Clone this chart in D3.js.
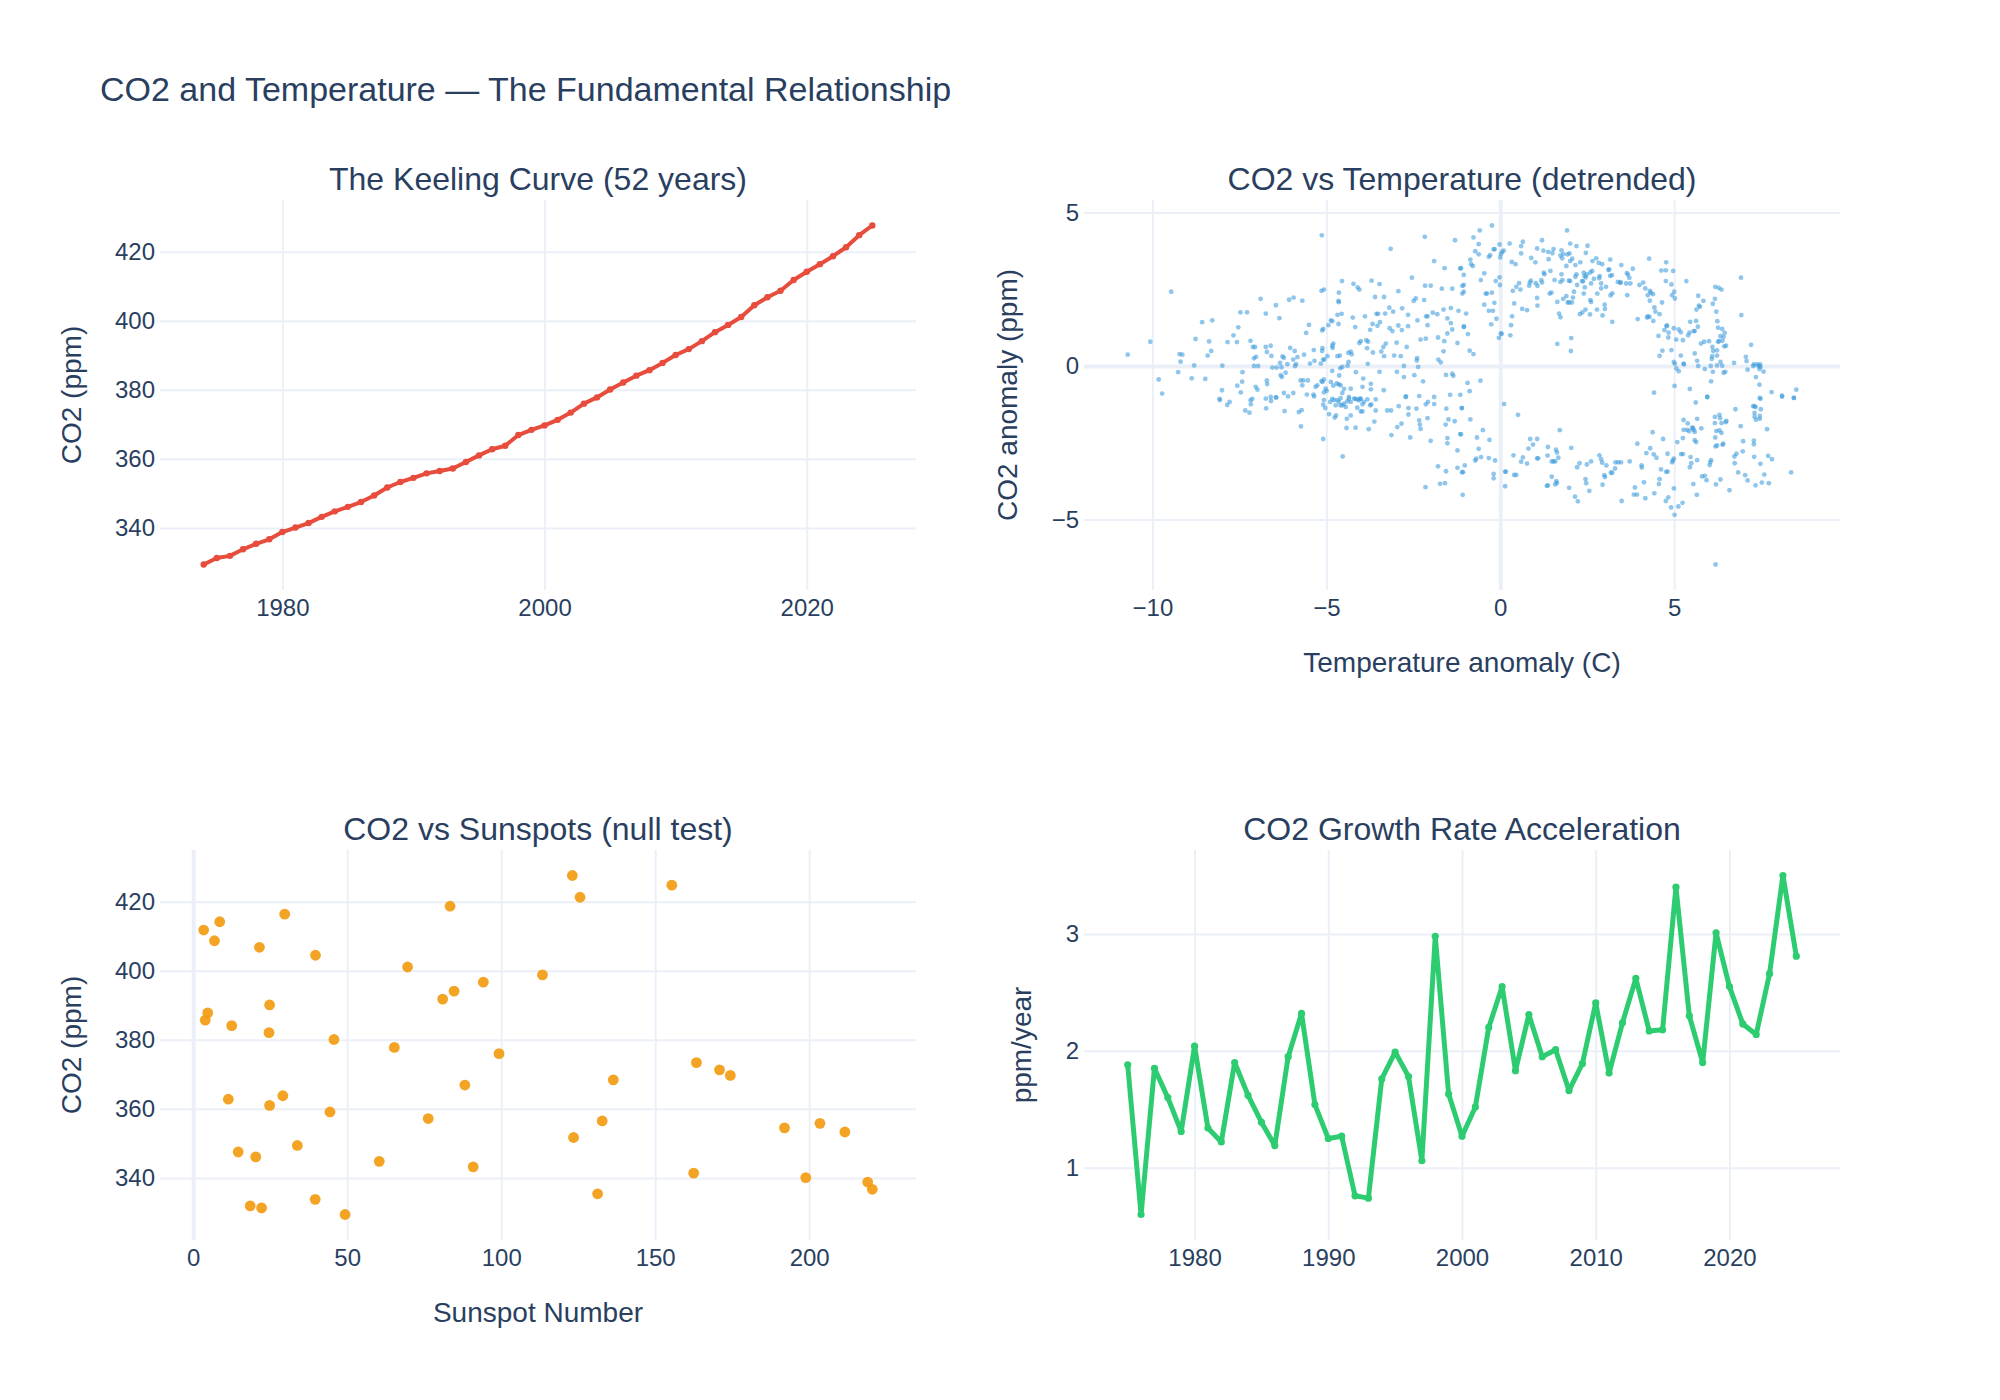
<!DOCTYPE html>
<meta charset="utf-8">
<style>
body { margin: 0; background: #fff; }
svg { font-family: "Liberation Sans", Arial, sans-serif; }
text { fill: #2a3f5f; }
.grid .domain, .labels .domain { display: none; }
.grid line { stroke: #ebf0f8; stroke-width: 2px; }
.grid .zero line { stroke-width: 4px; }
.labels text { font-size: 24px; }
.main-title { font-size: 34px; }
.sub-title { font-size: 32px; text-anchor: middle; }
.axis-title { font-size: 28px; text-anchor: middle; }
</style>
<svg width="2000" height="1400"></svg>
<script src="https://cdn.jsdelivr.net/npm/d3@7"></script>
<script>
// ---- data ----
var years = [1974, 1975, 1976, 1977, 1978, 1979, 1980, 1981, 1982, 1983, 1984, 1985, 1986,
  1987, 1988, 1989, 1990, 1991, 1992, 1993, 1994, 1995, 1996, 1997, 1998, 1999, 2000,
  2001, 2002, 2003, 2004, 2005, 2006, 2007, 2008, 2009, 2010, 2011, 2012, 2013, 2014,
  2015, 2016, 2017, 2018, 2019, 2020, 2021, 2022, 2023, 2024, 2025];

var co2Ppm = [329.4, 331.3, 331.9, 333.8, 335.4, 336.7, 338.8, 340.1, 341.4, 343.2, 344.8,
  346.1, 347.5, 349.4, 351.7, 353.3, 354.5, 355.8, 356.5, 357.2, 359.1, 361.0, 362.8,
  363.8, 366.9, 368.4, 369.7, 371.3, 373.4, 376.0, 377.8, 380.1, 382.1, 384.1, 385.7,
  387.8, 390.1, 391.8, 394.1, 396.7, 398.8, 401.1, 404.5, 406.8, 408.7, 411.8, 414.2,
  416.4, 418.7, 421.3, 424.8, 427.6];

// sunspot number for each year above
var sunspots = [49.3, 22.2, 18.5, 39.6, 131.3, 220.5, 219.0, 198.9, 162.5, 90.9, 60.4,
  20.3, 14.6, 33.8, 123.5, 211.6, 192.0, 203.5, 132.8, 76.3, 44.4, 24.8, 11.4, 29.1,
  88.2, 136.4, 174.4, 170.9, 163.4, 99.3, 65.3, 45.7, 24.6, 12.5, 3.9, 4.7, 24.8, 81.0,
  84.7, 94.2, 113.4, 69.6, 39.7, 21.5, 6.9, 3.4, 8.6, 29.7, 83.4, 125.6, 155.4, 123.1];

// growth rate, 1975..2025
var growthRate = [1.88, 0.60, 1.85, 1.60, 1.31, 2.04, 1.34, 1.22, 1.90, 1.62, 1.39, 1.19,
  1.95, 2.32, 1.54, 1.25, 1.27, 0.76, 0.74, 1.76, 1.99, 1.78, 1.06, 2.98, 1.63, 1.27,
  1.52, 2.20, 2.55, 1.83, 2.31, 1.95, 2.01, 1.66, 1.89, 2.41, 1.81, 2.24, 2.62, 2.17,
  2.18, 3.40, 2.30, 1.90, 3.01, 2.55, 2.23, 2.14, 2.66, 3.50, 2.81];

// [temperature anomaly (C), CO2 anomaly (ppm)]
var detrended = [
  [-5.13,4.26],[-2.17,4.21],[-1.30,4.10],[-3.15,3.82],[-1.90,3.42],[-1.60,3.19],[-1.13,3.19],
  [-2.54,2.88],[-4.55,2.77],[-4.22,2.68],[-4.10,2.56],[-4.05,2.49],[-3.70,2.78],[-3.47,2.67],
  [-5.14,2.45],[-5.07,2.49],[-4.64,2.39],[-2.93,2.44],[-2.16,2.62],[-2.00,2.62],[-1.68,2.52],
  [-1.09,2.61],[-9.46,2.42],[-6.89,2.19],[-6.07,2.16],[-5.94,2.23],[-5.69,2.13],[-3.60,2.25],
  [-3.34,2.25],[-2.43,2.20],[-2.49,2.12],[-2.19,2.15],[-1.38,2.52],[-1.09,2.36],[-4.65,2.12],
  [-4.64,2.08],[-6.45,1.98],[-6.74,1.71],[-6.35,1.56],[-7.47,1.75],[-7.28,1.75],[-8.57,1.43],
  [-8.28,1.49],[-4.56,1.70],[-4.68,1.67],[-4.24,1.58],[-3.89,1.62],[-3.56,1.70],[-3.51,1.70],
  [-3.31,1.71],[-3.19,1.90],[-3.08,1.77],[-2.82,1.88],[-2.65,1.67],[-2.38,1.49],[-2.13,1.62],
  [-2.09,1.62],[-1.94,1.74],[-1.81,1.69],[-1.63,1.84],[-1.42,1.89],[-1.20,1.80],[-1.52,1.55],
  [-1.42,1.40],[-1.04,1.28],[-5.50,1.34],[-5.58,1.08],[-4.94,1.33],[-4.87,1.49],[-4.83,1.46],
  [-5.09,1.21],[-5.12,1.16],[-4.65,1.37],[-4.17,1.27],[-3.74,1.18],[-3.67,1.37],[-3.53,1.31],
  [-3.46,1.43],[-3.29,0.73],[-3.36,0.62],[-3.18,1.23],[-3.10,1.14],[-2.93,1.32],[-2.83,1.17],
  [-2.65,1.30],[-2.09,1.33],[-2.29,0.86],[-2.14,0.89],[-1.79,0.93],[-1.61,0.81],[-1.52,1.06],
  [-1.38,1.19],[-1.23,0.75],[-7.53,1.26],[-7.67,1.00],[-7.84,0.78],[-7.57,0.78],[-7.18,0.82],
  [-8.76,0.88],[-8.37,0.80],[-8.31,0.49],[-8.41,0.34],[-10.06,0.79],[-10.71,0.37],[-9.22,0.39],
  [-9.14,0.37],[-9.19,0.14],[-8.80,0.02],[-7.99,0.01],[-7.11,0.62],[-7.05,0.62],[-6.74,0.62],
  [-6.60,0.66],[-6.71,0.46],[-7.08,0.25],[-7.02,0.30],[-6.58,0.33],[-7.08,0.00],[-6.96,0.00],
  [-6.55,-0.05],[-6.26,0.31],[-6.22,0.27],[-6.04,0.59],[-5.91,0.49],[-5.95,0.21],[-5.83,0.29],
  [-6.33,0.10],[-6.43,-0.05],[-6.29,-0.04],[-6.12,0.06],[-5.87,0.06],[-5.90,0.00],[-5.64,0.37],
  [-5.47,0.08],[-5.36,0.52],[-5.34,0.17],[-5.11,0.58],[-5.12,0.49],[-5.09,0.21],[-5.06,0.21],
  [-5.16,0.08],[-4.97,0.32],[-4.80,0.73],[-4.83,0.66],[-4.82,0.59],[-4.68,0.32],[-4.61,0.34],
  [-4.37,0.43],[-4.30,0.47],[-4.27,0.38],[-4.54,-0.03],[-4.39,0.01],[-4.83,-0.16],[-4.60,-0.07],
  [-4.63,-0.31],[-4.36,0.13],[-4.05,0.75],[-4.01,0.81],[-3.85,0.84],[-3.80,0.79],[-3.83,0.58],
  [-3.81,0.07],[-4.15,-0.20],[-3.94,-0.41],[-3.66,0.44],[-3.42,0.47],[-3.47,-0.19],[-3.35,-0.79],
  [-3.34,0.32],[-3.05,0.34],[-2.86,0.32],[-2.98,0.76],[-2.69,0.62],[-2.39,0.26],[-2.40,0.18],
  [-2.36,-0.03],[-2.77,0.00],[-2.97,-0.19],[-2.77,-0.36],[-2.47,-0.30],[-2.22,-0.50],[-1.78,0.21],
  [-1.71,0.12],[-1.63,0.48],[-1.56,-0.29],[-1.38,-0.25],[-1.35,-0.32],[-1.15,-0.94],[-1.44,-0.94],
  [-1.90,-1.01],[-2.33,-0.98],[-2.72,-1.01],[-3.72,-0.76],[-3.96,-0.68],[-3.72,-0.58],[-8.87,-0.40],
  [-9.26,-0.20],[-9.82,-0.44],[-9.72,-0.90],[-8.48,-0.42],[-7.41,-0.20],[-7.42,-0.51],[-7.56,-0.64],
  [-7.46,-0.86],[-8.00,-0.79],[-8.07,-1.07],[-7.03,-0.68],[-6.98,-0.77],[-6.71,-0.47],[-6.70,-0.59],
  [-6.31,-0.30],[-6.28,-0.36],[-6.60,-1.01],[-6.22,-0.88],[-5.95,-0.88],[-6.44,-1.03],[-6.17,-0.22],
  [-5.74,-0.47],[-5.66,-0.47],[-5.53,-0.47],[-5.69,-0.63],[-5.56,-0.93],[-5.37,-0.93],[-5.31,-0.68],
  [-5.26,-0.63],[-5.14,-0.49],[-5.11,-0.52],[-5.07,-0.44],[-5.02,-0.74],[-4.99,-0.81],[-5.07,-0.86],
  [-4.87,-0.52],[-4.80,-0.64],[-4.70,-0.57],[-4.64,-0.60],[-4.59,-0.63],[-4.49,-0.75],[-4.54,-0.88],
  [-4.30,-0.74],[-4.20,-1.06],[-4.03,-1.06],[-4.35,-1.01],[-4.59,-1.05],[-4.83,-1.07],
  [-8.06,-1.11],[-7.85,-1.27],[-7.78,-1.17],[-7.33,-1.45],[-7.21,-1.52],[-7.18,-1.12],[-7.17,-1.25],
  [-7.13,-1.07],[-6.74,-1.06],[-6.73,-1.38],[-6.59,-1.14],[-6.45,-1.02],[-6.20,-1.47],[-6.10,-0.99],
  [-5.79,-1.50],[-5.71,-1.44],[-5.73,-1.97],[-5.35,-0.99],[-5.09,-2.38],[-5.07,-1.11],[-5.09,-1.26],
  [-5.03,-1.37],[-4.92,-1.57],[-4.89,-1.17],[-4.78,-1.11],[-4.73,-1.28],[-4.68,-1.11],[-4.64,-1.17],
  [-4.59,-1.28],[-4.54,-1.28],[-4.49,-1.23],[-4.44,-1.34],[-4.40,-1.15],[-4.35,-1.07],[-4.30,-1.17],
  [-4.76,-1.68],[-4.72,-1.61],[-4.53,-2.95],[-4.41,-1.72],[-4.42,-2.02],[-4.30,-1.61],[-4.16,-2.01],
  [-4.17,-1.07],[-4.11,-1.09],[-4.06,-1.12],[-4.01,-1.07],[-3.96,-1.25],[-3.92,-1.17],[-4.11,-1.36],
  [-4.01,-1.48],[-3.96,-1.48],[-3.82,-1.09],[-3.74,-1.28],[-3.71,-1.25],[-3.78,-2.06],[-3.62,-1.81],
  [-3.58,-1.09],[-3.58,-1.45],[-3.25,-1.45],[-3.14,-1.45],[-3.13,-2.25],[-2.96,-1.99],[-2.84,-1.88],
  [-2.92,-1.31],[-2.71,-0.99],[-2.64,-1.37],[-2.64,-1.58],[-2.59,-2.33],[-2.41,-1.39],[-2.33,-1.77],
  [-2.31,-1.91],[-2.29,-2.05],[-2.09,-1.70],[-2.14,-1.25],[-2.08,-1.17],[-2.00,-2.44],[-1.90,-1.24],
  [-1.79,-3.27],[-2.15,-3.95],[-1.73,-3.84],[-1.59,-3.82],[-1.56,-3.43],[-1.55,-1.39],[-1.57,-1.91],
  [-1.49,-1.74],[-1.31,-1.80],[-1.52,-2.35],[-1.52,-2.52],[-1.23,-2.75],[-1.23,-3.32],[-1.13,-2.23],
  [-1.11,-1.37],[-1.10,-3.46],[-1.08,-4.20],
  [-0.24,4.58],[-0.59,4.42],[-0.77,4.19],[-0.62,3.97],[-0.72,3.74],[-0.62,3.64],[-0.86,3.47],
  [-0.84,3.32],[-0.79,3.26],[-1.15,3.18],[-1.05,2.97],[-0.56,2.80],[-0.46,3.02],[-0.13,2.77],
  [-0.02,2.89],[-0.01,2.64],[-1.05,2.64],[-1.05,2.42],[-0.42,2.36],[-0.38,2.36],[-0.24,2.39],
  [-0.46,2.00],[-0.17,2.06],[-0.33,1.80],[-0.21,1.80],[-0.26,1.36],[-0.11,1.54],[-0.98,1.71],
  [-1.05,1.28],[-0.93,1.04],[-0.88,0.50],[-0.77,0.39],[-0.04,0.92],[0.04,1.05],[-0.57,-0.48],
  [-0.94,-0.55],[-0.88,-0.82],[-0.33,3.56],[-0.29,3.61],[-0.19,3.80],[-0.16,3.81],[-0.02,3.96],
  [0.02,3.65],[0.05,3.72],[0.00,3.54],[0.10,3.76],[0.27,3.99],[0.33,3.39],[0.44,3.32],[0.60,3.91],
  [0.65,4.05],[0.60,3.67],[0.89,3.52],[1.01,3.38],[1.06,3.83],[1.20,4.10],[1.24,3.76],[1.39,3.48],
  [1.38,3.72],[1.50,3.68],[1.53,3.81],[1.76,3.77],[1.73,3.60],[1.78,3.51],[1.81,3.65],[1.93,3.64],
  [1.99,3.67],[1.92,4.42],[2.07,3.50],[2.01,3.42],[2.01,3.99],[2.19,3.91],[1.90,3.26],[2.16,3.29],
  [2.30,3.38],[2.46,3.69],[2.51,3.92],[2.65,3.42],[2.76,3.51],[2.83,3.36],[2.93,3.32],[3.16,3.47],
  [3.11,3.13],[3.13,3.15],[3.48,3.29],[3.81,3.17],[3.64,3.03],[3.67,2.98],[3.71,2.87],[3.46,2.73],
  [3.62,2.69],[3.74,2.69],[3.16,2.94],[3.21,2.96],[2.86,2.93],[2.84,2.86],[2.69,2.84],[2.64,3.10],
  [2.59,3.05],[2.49,2.99],[2.40,3.04],[2.42,2.93],[2.46,2.89],[2.35,2.77],[2.38,2.76],[2.19,2.99],
  [2.16,2.91],[2.01,2.77],[1.97,2.78],[1.76,2.99],[1.79,2.80],[1.73,2.74],[1.56,2.80],[1.44,3.10],
  [1.25,3.04],[1.27,2.99],[1.18,2.80],[1.20,2.72],[1.02,2.70],[1.07,2.61],[0.88,2.78],[0.85,2.72],
  [0.83,2.62],[0.46,2.58],[0.54,2.70],[0.36,2.45],[0.58,2.49],[0.40,2.04],[0.34,1.62],[0.31,1.33],
  [0.29,1.00],[0.02,1.06],[0.63,1.86],[0.77,1.82],[1.06,2.22],[1.07,1.97],[1.42,2.36],[1.47,2.39],
  [1.64,2.09],[1.69,1.71],[1.73,1.59],[1.64,0.72],[1.81,2.19],[1.90,2.28],[2.04,0.91],[2.03,0.49],
  [1.94,2.07],[1.98,2.07],[2.06,2.07],[2.12,2.42],[2.09,2.23],[2.21,2.64],[2.29,1.69],[2.36,1.75],
  [2.45,1.84],[2.43,2.56],[2.40,2.36],[2.59,2.15],[2.61,2.09],[2.58,1.68],[2.61,2.69],[2.78,1.84],
  [2.79,2.36],[2.90,2.69],[2.90,2.53],[2.94,1.65],[3.00,2.00],[3.01,1.86],[3.04,2.58],[3.17,2.30],
  [3.22,2.37],[3.22,1.44],[3.38,2.74],[3.45,2.71],[3.65,2.31],[3.95,1.53],[4.00,2.64],[4.11,2.72],
  [4.17,2.53],[4.24,2.31],[4.30,2.45],[4.33,2.39],[4.28,3.50],[4.30,2.13],[4.39,2.34],[4.24,1.62],
  [4.29,1.60],[4.22,1.58],[4.43,1.91],[4.46,1.77],[4.58,1.69],[4.40,1.47],[4.65,2.07],[4.63,3.11],
  [4.76,3.12],[4.77,3.38],[4.97,3.10],[4.76,2.77],[4.92,2.66],[4.94,2.31],[5.00,2.42],[5.02,2.20],
  [5.35,2.77],[4.55,0.98],[4.66,0.50],[4.58,0.33],[4.72,1.17],[4.79,1.32],[4.78,1.30],[4.84,1.09],
  [4.83,0.93],[4.92,0.52],[4.99,1.23],[5.13,1.19],[5.19,1.10],[5.06,0.86],[5.25,0.84],[5.19,0.34],
  [5.27,0.08],[5.28,0.05],[4.99,0.13],[5.02,0.07],[5.06,-0.08],[5.13,-0.17],[5.44,1.09],[5.40,1.00],
  [5.46,1.44],[5.63,1.47],[5.56,1.14],[5.59,1.14],[5.68,1.28],[5.69,2.29],[5.71,1.97],[5.84,2.12],
  [5.64,1.84],[5.74,1.93],[5.59,0.41],[5.66,0.17],[5.69,0.00],[5.45,-0.75],[5.86,0.79],[6.00,0.81],
  [5.77,0.73],[6.10,0.62],[6.12,0.49],[6.09,0.32],[6.23,0.51],[6.23,0.34],[5.88,-0.10],[5.95,-1.01],
  [6.08,0.23],[6.05,0.00],[6.11,-0.19],[6.06,-0.50],[6.18,2.58],[6.28,2.55],[6.36,2.49],[6.17,2.19],
  [6.11,2.03],[6.21,1.77],[6.24,1.46],[6.26,1.25],[6.38,1.21],[6.33,0.97],[6.45,1.08],[6.42,0.95],
  [6.26,0.79],[6.29,0.81],[6.39,0.82],[6.44,0.64],[6.49,0.66],[6.33,0.13],[6.38,0.01],[6.42,-0.22],
  [6.47,-0.19],[6.23,0.02],[6.72,0.10],[6.92,2.88],[6.93,1.66],[7.06,0.30],[7.08,0.16],[7.11,-0.12],
  [7.21,0.69],[7.27,0.00],[7.29,0.05],[7.38,0.05],[7.43,0.00],[7.47,0.05],[7.48,-0.03],[7.45,-0.10],
  [7.57,-0.18],[7.35,-0.36],[7.45,-0.61],[7.80,-0.85],[8.10,-0.97],[8.44,-1.04],[8.51,-0.77],
  [7.46,-1.04],[4.42,-0.87],[5.01,-0.65],
  [-1.10,-1.37],[-0.86,-1.74],[-1.15,-2.22],[-0.67,-2.33],[-0.62,-2.70],[-0.72,-3.08],[-0.69,-3.02],
  [-0.55,-2.97],[-0.50,-2.09],[-0.31,-2.41],[-0.33,-3.00],[-0.15,-3.08],[-1.02,-3.24],[-1.07,-3.46],
  [-0.19,-3.52],[-0.19,-3.66],[0.11,-1.24],[0.51,-1.59],[0.14,-3.45],[0.16,-3.44],[0.14,-3.92],
  [0.40,-3.55],[0.46,-3.55],[0.38,-2.91],[0.65,-2.98],[0.60,-3.12],[0.77,-3.18],[0.86,-2.38],
  [0.94,-2.56],[1.06,-2.38],[0.81,-2.69],[1.06,-3.01],[1.09,-3.01],[1.34,-3.91],[1.37,-3.89],
  [1.48,-3.61],[1.61,-3.75],[1.58,-3.86],[1.63,-3.81],[1.37,-2.64],[1.36,-2.92],[1.48,-3.11],
  [1.53,-3.11],[1.58,-3.11],[1.60,-2.73],[1.63,-2.82],[1.67,-2.99],[1.71,-2.09],[1.98,-3.97],
  [2.04,-2.67],[2.15,-4.26],[2.23,-4.41],[2.21,-3.30],[2.28,-3.17],[2.45,-3.69],[2.47,-3.82],
  [2.56,-4.07],[2.49,-3.21],[2.61,-3.11],[2.85,-2.91],[2.90,-3.04],[2.93,-3.15],[2.94,-3.87],
  [2.99,-3.56],[3.01,-3.62],[3.05,-3.24],[3.18,-3.48],[3.22,-3.48],[3.30,-3.34],[3.31,-3.14],
  [3.39,-3.14],[3.47,-3.14],[3.49,-4.40],[3.72,-3.11],[3.87,-3.96],[3.84,-4.19],[3.93,-4.19],
  [3.94,-2.53],[4.06,-3.24],[4.07,-3.31],[4.13,-3.79],[4.17,-4.31],[4.20,-2.84],[4.31,-2.68],
  [4.38,-2.16],[4.41,-2.88],[4.43,-4.15],[4.49,-2.99],[4.58,-3.69],[4.56,-3.85],[4.62,-3.37],
  [4.68,-2.38],[4.77,-3.45],[4.81,-3.44],[4.81,-2.86],[4.76,-4.40],[4.83,-4.28],[4.91,-4.61],
  [5.01,-4.85],[5.12,-4.58],[5.24,-4.46],[4.99,-3.99],[4.96,-3.08],[4.94,-3.14],[4.99,-3.02],
  [5.09,-2.48],[5.20,-2.87],[5.25,-2.87],[5.25,-2.35],[5.27,-2.08],[5.27,-1.76],[5.39,-1.87],
  [5.37,-2.08],[5.43,-2.13],[5.51,-2.02],[5.54,-2.01],[5.56,-2.08],[5.59,-2.15],[5.45,-3.30],
  [5.47,-2.97],[5.49,-3.17],[5.66,-3.07],[5.55,-3.85],[5.59,-2.42],[5.63,-2.48],[5.62,-1.19],
  [5.66,-1.72],[5.78,-2.03],[5.65,-4.20],[5.80,-3.60],[5.88,-3.58],[5.93,-3.72],[5.95,-1.01],
  [6.02,-3.23],[6.04,-3.13],[6.06,-3.07],[6.17,-1.66],[6.30,-1.59],[6.32,-1.70],[6.17,-1.86],
  [6.36,-1.86],[6.48,-1.83],[6.50,-1.79],[6.21,-2.12],[6.30,-2.10],[6.36,-2.18],[6.18,-2.33],
  [6.19,-2.62],[6.23,-2.59],[6.41,-2.53],[6.39,-2.57],[6.20,-3.86],[6.33,-3.70],[6.19,-6.47],
  [6.59,-4.05],[6.73,-2.95],[6.79,-2.86],[6.76,-1.41],[6.74,-3.17],[6.84,-3.47],[6.91,-1.96],
  [6.98,-2.45],[6.97,-2.78],[7.04,-3.56],[7.11,-3.73],[7.27,-1.31],[7.31,-1.31],[7.34,-1.34],
  [7.31,-1.53],[7.31,-1.65],[7.35,-1.75],[7.46,-1.72],[7.46,-1.63],[7.29,-2.43],[7.29,-2.55],
  [7.30,-2.96],[7.34,-3.89],[7.48,-1.07],[7.49,-1.41],[7.48,-3.19],[7.52,-3.80],[7.59,-3.54],
  [7.67,-2.06],[7.70,-2.93],[7.72,-3.82],[7.81,-3.04],[8.10,-1.00],[8.36,-3.47],[8.44,-1.04]
];

var keelingYearTicks = [1980, 2000, 2020];
var growthYearTicks = [1980, 1990, 2000, 2010, 2020];
var ppmTicks = [340, 360, 380, 400, 420];
var tempTicks = [-10, -5, 0, 5];
var anomalyTicks = [-5, 0, 5];
var sunspotTicks = [0, 50, 100, 150, 200];
var growthTicks = [1, 2, 3];

// ---- layout ----
var svg = d3.select("svg");
svg.append("rect").attr("width", 2000).attr("height", 1400).attr("fill", "#fff");

var cols = [[160, 916], [1084, 1840]],
    rows = [[200, 590], [850, 1240]],
    padX = 43.7, padY = 25.5;

// range with a fixed pixel pad on each side, like plotly's autorange
function padded(ext, len, pad) {
  var k = (len - 2 * pad) / (ext[1] - ext[0]);
  return [ext[0] - pad / k, ext[1] + pad / k];
}

function markZero(sel) {
  sel.selectAll(".tick").filter(function(d) { return d === 0; }).classed("zero", true);
}

svg.append("text")
    .attr("class", "main-title")
    .attr("x", 100)
    .attr("y", 101)
    .text("CO2 and Temperature \u2014 The Fundamental Relationship");

function panel(p) {
  var xr = cols[p.col], yr = rows[p.row];
  var x = d3.scaleLinear().domain(padded(p.xExt, xr[1] - xr[0], padX)).range(xr);
  var y = d3.scaleLinear().domain(padded(p.yExt, yr[1] - yr[0], padY)).range([yr[1], yr[0]]);
  var g = svg.append("g");

  g.append("g")
      .attr("class", "grid")
      .attr("transform", "translate(0," + yr[1] + ")")
      .call(d3.axisBottom(x).tickValues(p.xTicks).tickSize(-(yr[1] - yr[0])).tickFormat(""))
      .call(markZero);
  g.append("g")
      .attr("class", "grid")
      .attr("transform", "translate(" + xr[0] + ",0)")
      .call(d3.axisLeft(y).tickValues(p.yTicks).tickSize(-(xr[1] - xr[0])).tickFormat(""))
      .call(markZero);

  p.draw(g, x, y);

  g.append("g")
      .attr("class", "labels")
      .attr("transform", "translate(0," + yr[1] + ")")
      .call(d3.axisBottom(x).tickValues(p.xTicks).tickSize(0).tickPadding(9).tickFormat(p.xFormat))
      .attr("font-size", null).attr("font-family", null);
  var yl = g.append("g")
      .attr("class", "labels")
      .attr("transform", "translate(" + xr[0] + ",0)")
      .call(d3.axisLeft(y).tickValues(p.yTicks).tickSize(0).tickPadding(5).tickFormat(d3.format("")))
      .attr("font-size", null).attr("font-family", null);

  var labelW = d3.max(yl.selectAll("text").nodes(), function(n) { return n.getBBox().width; });

  g.append("text")
      .attr("class", "sub-title")
      .attr("x", (xr[0] + xr[1]) / 2)
      .attr("y", yr[0] - 10)
      .text(p.title);

  var ty = xr[0] - 5 - labelW - 44;
  g.append("text")
      .attr("class", "axis-title")
      .attr("transform", "translate(" + ty + "," + (yr[0] + yr[1]) / 2 + ") rotate(-90)")
      .attr("dy", "0.35em")
      .text(p.yTitle);

  if (p.xTitle) {
    g.append("text")
        .attr("class", "axis-title")
        .attr("x", (xr[0] + xr[1]) / 2)
        .attr("y", yr[1] + 82)
        .text(p.xTitle);
  }
}

// Keeling curve
panel({
  col: 0, row: 0,
  title: "The Keeling Curve (52 years)",
  yTitle: "CO2 (ppm)",
  xExt: d3.extent(years), yExt: d3.extent(co2Ppm),
  xTicks: keelingYearTicks, yTicks: ppmTicks, xFormat: d3.format("d"),
  draw: function(g, x, y) {
    var line = d3.line()
        .x(function(d, i) { return x(years[i]); })
        .y(function(d) { return y(d); });
    g.append("path")
        .datum(co2Ppm)
        .attr("d", line)
        .attr("fill", "none")
        .attr("stroke", "#e74c3c")
        .attr("stroke-width", 4)
        .attr("stroke-linejoin", "round");
    g.selectAll(".k-dot")
        .data(co2Ppm)
      .enter().append("circle")
        .attr("cx", function(d, i) { return x(years[i]); })
        .attr("cy", function(d) { return y(d); })
        .attr("r", 3.2)
        .attr("fill", "#e74c3c");
  }
});

// detrended scatter
panel({
  col: 1, row: 0,
  title: "CO2 vs Temperature (detrended)",
  yTitle: "CO2 anomaly (ppm)",
  xTitle: "Temperature anomaly (C)",
  xExt: d3.extent(detrended, function(d) { return d[0]; }),
  yExt: d3.extent(detrended, function(d) { return d[1]; }),
  xTicks: tempTicks, yTicks: anomalyTicks, xFormat: d3.format(""),
  draw: function(g, x, y) {
    g.selectAll(".t-dot")
        .data(detrended)
      .enter().append("circle")
        .attr("cx", function(d) { return x(d[0]); })
        .attr("cy", function(d) { return y(d[1]); })
        .attr("r", 2.4)
        .attr("fill", "#3498db")
        .attr("fill-opacity", 0.55);
  }
});

// sunspots
panel({
  col: 0, row: 1,
  title: "CO2 vs Sunspots (null test)",
  yTitle: "CO2 (ppm)",
  xTitle: "Sunspot Number",
  xExt: d3.extent(sunspots), yExt: d3.extent(co2Ppm),
  xTicks: sunspotTicks, yTicks: ppmTicks, xFormat: d3.format(""),
  draw: function(g, x, y) {
    g.selectAll(".s-dot")
        .data(co2Ppm)
      .enter().append("circle")
        .attr("cx", function(d, i) { return x(sunspots[i]); })
        .attr("cy", function(d) { return y(d); })
        .attr("r", 5.4)
        .attr("fill", "#f39c12")
        .attr("fill-opacity", 0.92);
  }
});

// growth rate
var growthYears = years.slice(1);
panel({
  col: 1, row: 1,
  title: "CO2 Growth Rate Acceleration",
  yTitle: "ppm/year",
  xExt: d3.extent(growthYears), yExt: d3.extent(growthRate),
  xTicks: growthYearTicks, yTicks: growthTicks, xFormat: d3.format("d"),
  draw: function(g, x, y) {
    var line = d3.line()
        .x(function(d, i) { return x(growthYears[i]); })
        .y(function(d) { return y(d); });
    g.append("path")
        .datum(growthRate)
        .attr("d", line)
        .attr("fill", "none")
        .attr("stroke", "#2ecc71")
        .attr("stroke-width", 5)
        .attr("stroke-linejoin", "round");
    g.selectAll(".g-dot")
        .data(growthRate)
      .enter().append("circle")
        .attr("cx", function(d, i) { return x(growthYears[i]); })
        .attr("cy", function(d) { return y(d); })
        .attr("r", 3.6)
        .attr("fill", "#2ecc71");
  }
});
</script>
